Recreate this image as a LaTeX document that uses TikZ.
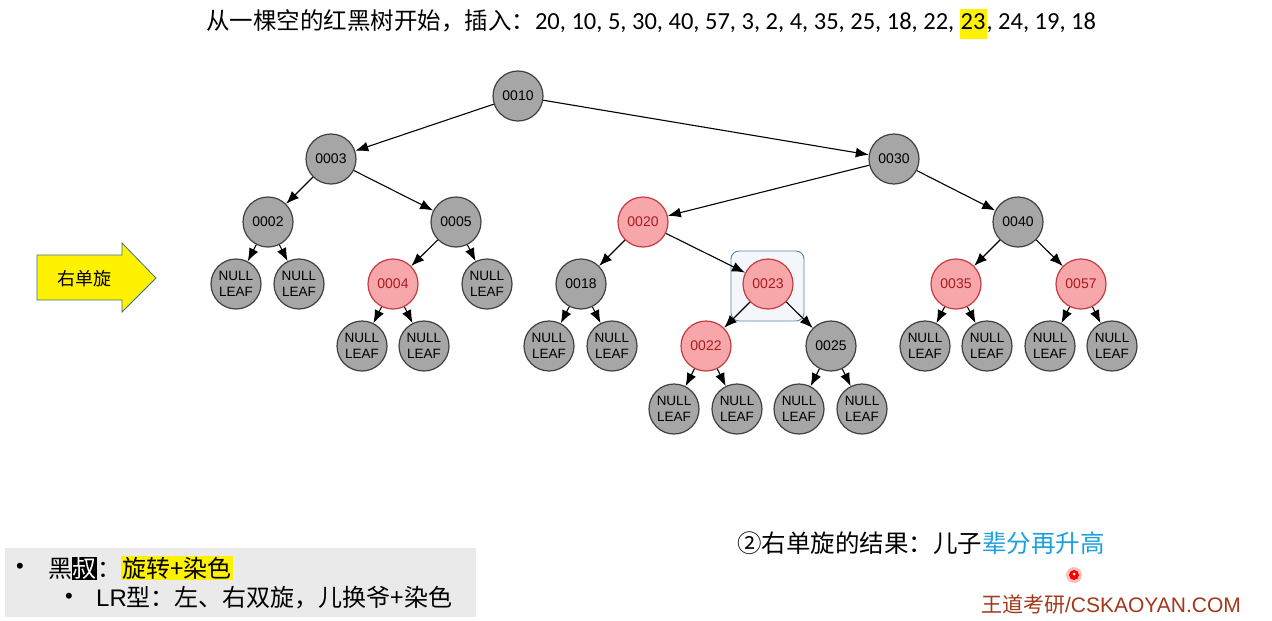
\documentclass[tikz,border=0pt]{standalone}
\usepackage{fontspec}
\setmainfont{Liberation Sans}
\newfontfamily\cjk{Noto Sans CJK SC}
\newfontfamily\calib{Carlito}
\usetikzlibrary{arrows.meta}
\definecolor{nodegray}{HTML}{A7A6A7}
\definecolor{rbfill}{HTML}{F7A6A9}
\definecolor{rbdraw}{HTML}{C43C3F}
\definecolor{rbtext}{HTML}{A81C22}
\definecolor{boxfill}{HTML}{F3F7FC}
\definecolor{boxdraw}{HTML}{5B84A8}
\definecolor{panelgray}{HTML}{EAEAEA}
\definecolor{skyblue}{HTML}{1C9FDD}
\definecolor{wdred}{HTML}{A3381C}
\definecolor{arrowdraw}{HTML}{3A7286}
\tikzset{>={Latex[length=13pt,width=10pt]},
    blk/.style={circle,draw=black!75,fill=nodegray,line width=1.2pt,
        minimum size=50pt,inner sep=0pt,font=\fontsize{14}{16}\selectfont},
    rd/.style={blk,draw=rbdraw,fill=rbfill,text=rbtext},
    nil/.style={blk,align=center,font=\fontsize{13.5}{16}\selectfont},
    edge/.style={->,line width=1.1pt}
}
\newcommand{\rbnode}[5][blk]{
    \node[#1] (#2) at (#3,#4) {#5};
}
\newcommand{\hlbox}[2]{{\setlength{\fboxsep}{1pt}\colorbox{#1}{#2}}}

\begin{document}
\begin{tikzpicture}[x=1pt,y=-1pt]
            \fill[white] (0,0) rectangle (1272,621);
            \useasboundingbox (0,0) rectangle (1272,621);
            % title
            \node (title) at (651,24) {{\cjk\fontsize{23.5}{26}\selectfont 从一棵空的红黑树开始，插入：}{\calib\fontsize{24.5}{28}\selectfont 20, 10, 5, 30, 40, 57, 3, 2, 4, 35, 25, 18, 22, \hlbox{yellow}{\strut 23}, 24, 19, 18}};
            % rotation arrow
            \draw[arrowdraw,fill=yellow,line width=0.8pt] (37,255) -- (122,255) -- (122,243) -- (156,278)
                -- (122,312) -- (122,300) -- (37,300) -- cycle;
            \node (rot) at (84,279) {\cjk\fontsize{18}{20}\selectfont 右单旋};
            % box round 0023
            \draw[boxdraw,fill=boxfill,line width=0.9pt,rounded corners=8pt] (731,251) rectangle (804,321);
            % tree
            \rbnode{n10}{518}{96}{0010}
            \rbnode{n03}{331}{159}{0003}
            \rbnode{n30}{894}{159}{0030}
            \rbnode{n02}{268}{222}{0002}
            \rbnode{n05}{456}{222}{0005}
            \rbnode[rd]{n20}{643}{222}{0020}
            \rbnode{n40}{1018}{222}{0040}
            \rbnode[nil]{l02a}{236}{284}{NULL\\LEAF}
            \rbnode[nil]{l02b}{299}{284}{NULL\\LEAF}
            \rbnode[rd]{n04}{393}{284}{0004}
            \rbnode[nil]{l05}{487}{284}{NULL\\LEAF}
            \rbnode{n18}{581}{284}{0018}
            \rbnode[rd]{n23}{768}{284}{0023}
            \rbnode[rd]{n35}{956}{284}{0035}
            \rbnode[rd]{n57}{1081}{284}{0057}
            \rbnode[nil]{l04a}{362}{346}{NULL\\LEAF}
            \rbnode[nil]{l04b}{424}{346}{NULL\\LEAF}
            \rbnode[nil]{l18a}{549}{346}{NULL\\LEAF}
            \rbnode[nil]{l18b}{612}{346}{NULL\\LEAF}
            \rbnode[rd]{n22}{706}{346}{0022}
            \rbnode{n25}{831}{346}{0025}
            \rbnode[nil]{l35a}{925}{346}{NULL\\LEAF}
            \rbnode[nil]{l35b}{987}{346}{NULL\\LEAF}
            \rbnode[nil]{l57a}{1050}{346}{NULL\\LEAF}
            \rbnode[nil]{l57b}{1112}{346}{NULL\\LEAF}
            \rbnode[nil]{l22a}{674}{409}{NULL\\LEAF}
            \rbnode[nil]{l22b}{737}{409}{NULL\\LEAF}
            \rbnode[nil]{l25a}{799}{409}{NULL\\LEAF}
            \rbnode[nil]{l25b}{862}{409}{NULL\\LEAF}
            \foreach \a/\b in {n10/n03,n10/n30,n03/n02,n03/n05,n02/l02a,n02/l02b,
                n05/n04,n05/l05,n04/l04a,n04/l04b,n30/n20,n30/n40,n20/n18,n20/n23,
                n18/l18a,n18/l18b,n23/n22,n23/n25,n22/l22a,n22/l22b,n25/l25a,n25/l25b,
                n40/n35,n40/n57,n35/l35a,n35/l35b,n57/l57a,n57/l57b}
                \draw[edge] (\a) -- (\b);
            % notes
            \fill[panelgray] (5,548) rectangle (476,617);
            \node (dot1) at (20,568) {\fontsize{22}{24}\selectfont •};
            \node[anchor=west,inner sep=0pt] (line1) at (48,568) {\cjk\fontsize{24}{28}\selectfont 黑{\setlength{\fboxsep}{0.5pt}\colorbox{black}{\textcolor{white}{叔}}}：\hlbox{yellow}{旋转+染色}};
            \node (dot2) at (69,598) {\fontsize{22}{24}\selectfont •};
            \node[anchor=west,inner sep=0pt] (line2) at (96,598) {\fontsize{24}{28}\selectfont LR{\cjk 型：左、右双旋，儿换爷+染色}};
            \node (result) at (921,543) {\cjk\fontsize{24.5}{28}\selectfont ②右单旋的结果：儿子\textcolor{skyblue}{辈分再升高}};
            \fill[red!25] (1074,575) circle (8);
            \fill[red] (1074,575) circle (5);
            \fill[white] (1074,574) circle (1.5);
            \node (mark) at (1111,605) {\fontsize{21}{24}\selectfont\textcolor{wdred}{{\cjk 王道考研}/CSKAOYAN.COM}};
        \end{tikzpicture}
\end{document}
